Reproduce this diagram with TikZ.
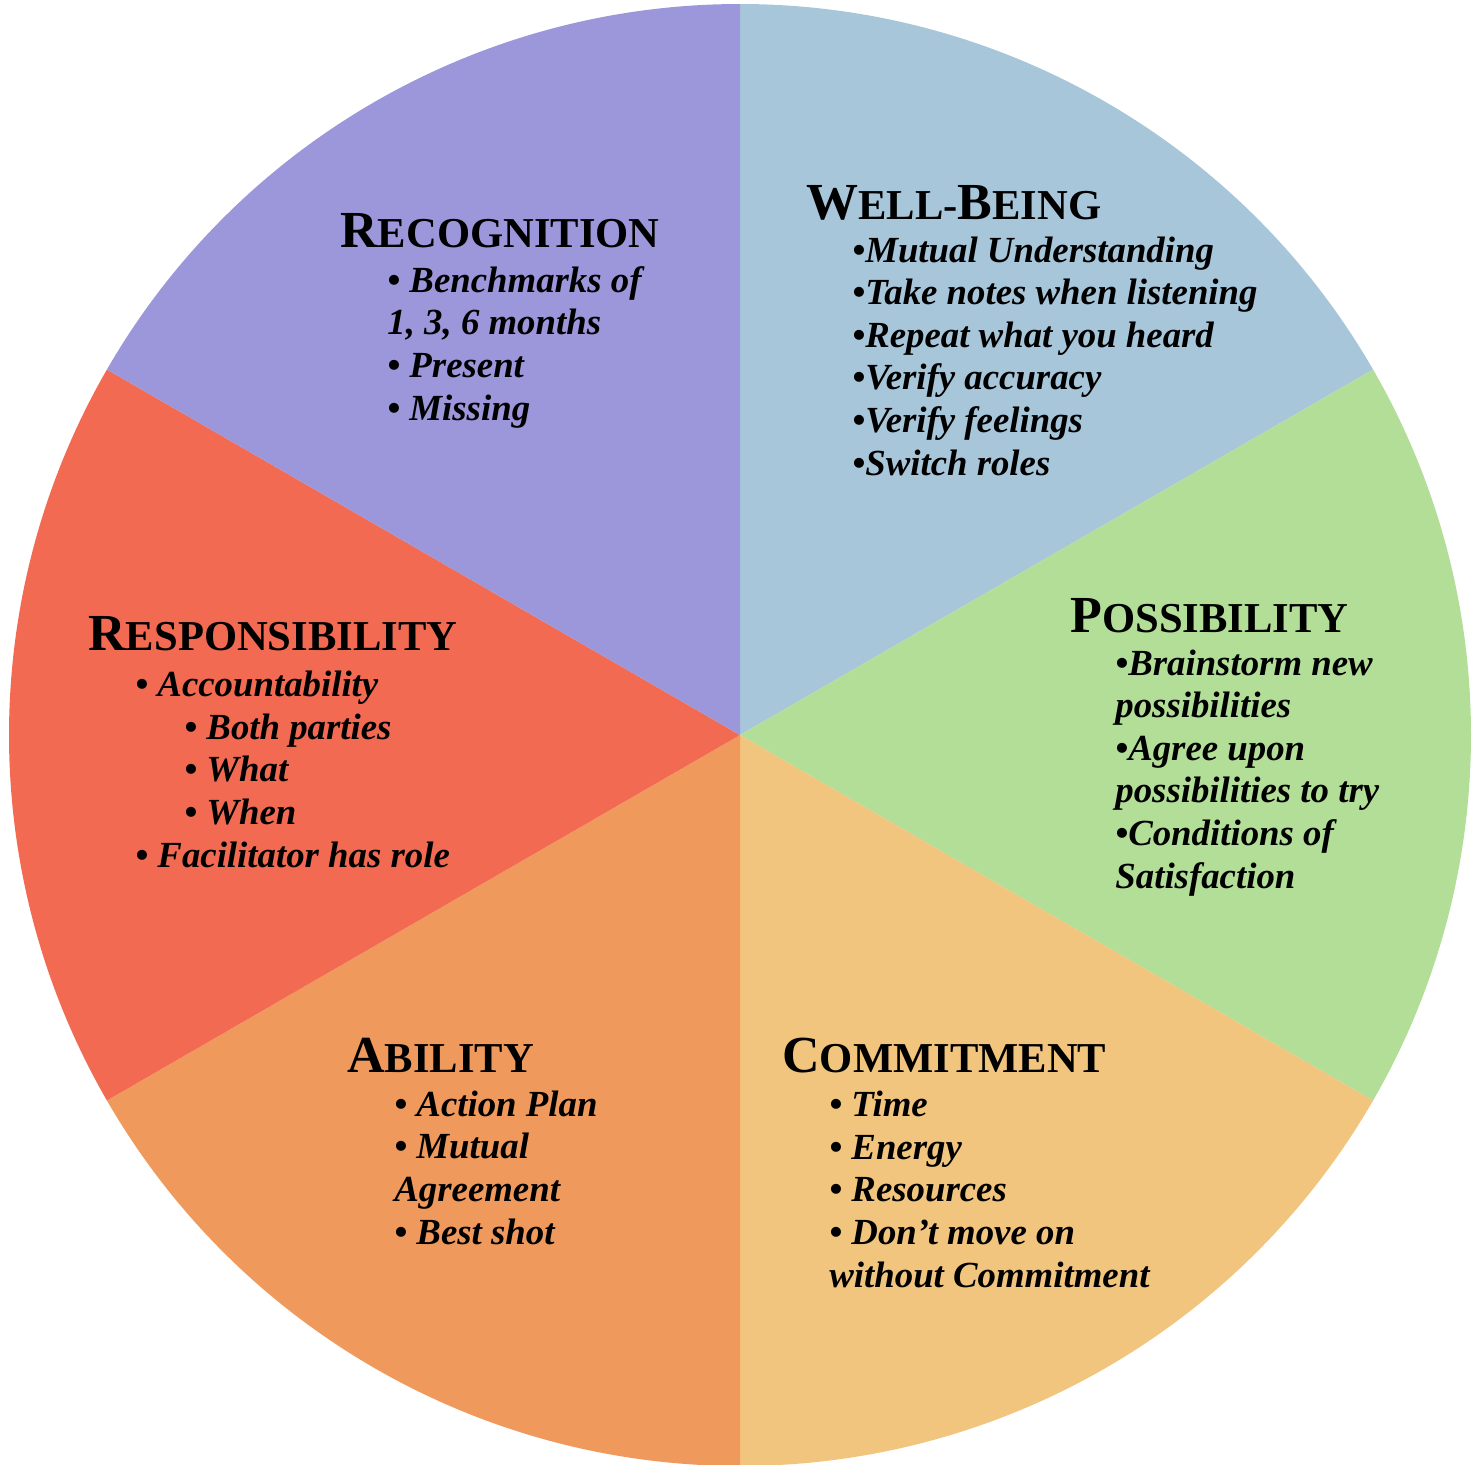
\documentclass[tikz,border=0pt]{standalone}
\usepackage{fontspec}
\setmainfont{Liberation Serif}
\definecolor{cWell}{HTML}{A8C6DA}
\definecolor{cPoss}{HTML}{B2DE98}
\definecolor{cComm}{HTML}{F2C57E}
\definecolor{cAbil}{HTML}{EF9A5C}
\definecolor{cResp}{HTML}{F26A52}
\definecolor{cReco}{HTML}{9C96DA}
\newcommand\sctitle[2]{{\fontsize{26}{26}\selectfont #1}{\fontsize{21.3}{21.3}\selectfont #2}}
\tikzset{
  titlenode/.style={anchor=base west, inner sep=0pt, font=\bfseries},
  listnode/.style={anchor=base west, inner sep=0pt, align=left,
    font=\fontsize{18.4}{21.3}\selectfont\bfseries\itshape},
}
\begin{document}
\begin{tikzpicture}[x=0.5pt,y=-0.5pt]
\useasboundingbox (0,0) rectangle (1478,1464);
\coordinate (C) at (740,735);
% slices (angles mirrored because y points down)
\fill[cWell] (C) -- ++(-90:731) arc[start angle=-90, end angle=-30, radius=731] -- cycle;
\fill[cPoss] (C) -- ++(-30:731) arc[start angle=-30, end angle=30, radius=731] -- cycle;
\fill[cComm] (C) -- ++(30:731) arc[start angle=30, end angle=90, radius=731] -- cycle;
\fill[cAbil] (C) -- ++(90:731) arc[start angle=90, end angle=150, radius=731] -- cycle;
\fill[cResp] (C) -- ++(150:731) arc[start angle=150, end angle=210, radius=731] -- cycle;
\fill[cReco] (C) -- ++(210:731) arc[start angle=210, end angle=270, radius=731] -- cycle;

% (list nodes are anchored at the baseline of their last line)
% Well-Being
\node[titlenode] (wbT) at (806,219) {\sctitle{W}{ELL-}\sctitle{B}{EING}};
\node[listnode] (wbL) at (852,475) {•Mutual Understanding\\•Take notes when listening\\•Repeat what you heard\\•Verify accuracy\\•Verify feelings\\•Switch roles};

% Recognition
\node[titlenode] (reT) at (340,247) {\sctitle{R}{ECOGNITION}};
\node[listnode] (reL) at (387,420) {• Benchmarks of\\1, 3, 6 months\\• Present\\• Missing};

% Responsibility
\node[titlenode] (rsT) at (88,650) {\sctitle{R}{ESPONSIBILITY}};
\node[listnode] (rsL) at (135,867) {• Accountability\\\hspace*{24.5pt}• Both parties\\\hspace*{24.5pt}• What\\\hspace*{24.5pt}• When\\• Facilitator has role};

% Possibility
\node[titlenode] (poT) at (1070,632) {\sctitle{P}{OSSIBILITY}};
\node[listnode] (poL) at (1115,888) {•Brainstorm new\\possibilities\\•Agree upon\\possibilities to try\\•Conditions of\\Satisfaction};

% Ability
\node[titlenode] (abT) at (347,1072) {\sctitle{A}{BILITY}};
\node[listnode] (abL) at (394,1244) {• Action Plan\\• Mutual\\Agreement\\• Best shot};

% Commitment
\node[titlenode] (coT) at (782,1072) {\sctitle{C}{OMMITMENT}};
\node[listnode] (coL) at (829,1287) {• Time\\• Energy\\• Resources\\• Don’t move on\\without Commitment};
\end{tikzpicture}
\end{document}
